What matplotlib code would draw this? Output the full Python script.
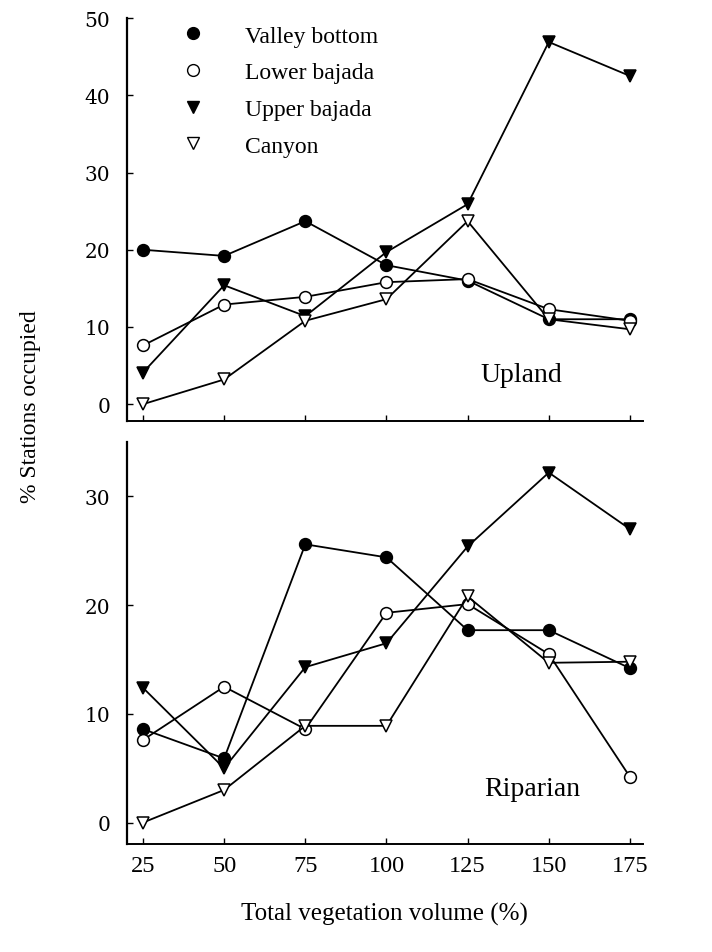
import numpy as np
import matplotlib
matplotlib.use('Agg')
import matplotlib.pyplot as plt
from matplotlib.lines import Line2D

# vegetation volume classes (%)
volume = [25, 50, 75, 100, 125, 150, 175]
series = ['Valley bottom', 'Lower bajada', 'Upper bajada', 'Canyon']

# % stations occupied, upland
up_valley = [20.0, 19.2, 23.7, 18.0, 16.0, 11.0, 11.0]
up_lower = [7.6, 12.9, 13.9, 15.8, 16.2, 12.3, 10.8]
up_upper = [4.1, 15.4, 11.4, 19.7, 25.9, 46.9, 42.5]
up_canyon = [0.0, 3.2, 10.8, 13.6, 23.7, 11.0, 9.7]

# % stations occupied, riparian
rip_valley = [8.6, 5.9, 25.6, 24.4, 17.7, 17.7, 14.2]
rip_lower = [7.6, 12.5, 8.6, 19.3, 20.1, 15.5, 4.2]
rip_upper = [12.4, 5.0, 14.3, 16.5, 25.4, 32.2, 27.0]
rip_canyon = [0.0, 3.0, 8.9, 8.9, 20.8, 14.7, 14.8]

plt.rcParams['font.family'] = ['Liberation Serif', 'DejaVu Serif']

styles = [dict(marker='o', mfc='k', mec='k', ms=8.5),
          dict(marker='o', mfc='w', mec='k', ms=8.5),
          dict(marker='v', mfc='k', mec='k', ms=9),
          dict(marker='v', mfc='w', mec='k', ms=9)]

fig = plt.figure(figsize=(7.12, 9.53), dpi=100)
ax1 = fig.add_axes([0.178, 0.557, 0.725, 0.423])
ax2 = fig.add_axes([0.178, 0.113, 0.725, 0.422])

for ax, data in [(ax1, [up_valley, up_lower, up_upper, up_canyon]),
                 (ax2, [rip_valley, rip_lower, rip_upper, rip_canyon])]:
    for vals, st in zip(data, styles):
        ax.plot(volume, vals, color='k', linewidth=1.3, mew=1.1, **st)
    ax.spines['top'].set_visible(False)
    ax.spines['right'].set_visible(False)
    ax.spines['left'].set_linewidth(1.6)
    ax.spines['bottom'].set_linewidth(1.4)
    ax.set_xlim(20, 179)
    ax.set_xticks(volume)
    ax.tick_params(direction='in', length=4.5, width=1)
    ax.tick_params(axis='y', pad=12)

ax1.set_ylim(-2.2, 50)
ax1.set_yticks([0, 10, 20, 30, 40, 50])
ax1.set_yticklabels(['0', '10', '20', '30', '40', '50'], fontfamily='DejaVu Serif', fontsize=14.5)
ax1.set_xticklabels([])

ax2.set_ylim(-2, 35)
ax2.set_yticks([0, 10, 20, 30])
ax2.set_yticklabels(['0', '10', '20', '30'], fontfamily='DejaVu Serif', fontsize=14.5)
ax2.set_xticklabels([str(v) for v in volume], fontsize=17.5)
ax2.tick_params(axis='x', pad=8)
ax2.set_xlabel('Total vegetation volume (%)', fontsize=18, labelpad=18)

ax1.text(0.764, 0.117, 'Upland', transform=ax1.transAxes, fontsize=20, ha='center', va='center')
ax2.text(0.785, 0.139, 'Riparian', transform=ax2.transAxes, fontsize=20, ha='center', va='center')

handles = [Line2D([], [], linestyle='none', **st) for st in styles]
ax1.legend(handles, series, loc='upper left', bbox_to_anchor=(0.064, 1.006),
           frameon=False, fontsize=17, handletextpad=1.2, labelspacing=0.64,
           borderaxespad=0)

fig.text(0.043, 0.573, '% Stations occupied', rotation=90, ha='center', va='center',
         fontsize=17)

fig.savefig('out.png', dpi=100)
